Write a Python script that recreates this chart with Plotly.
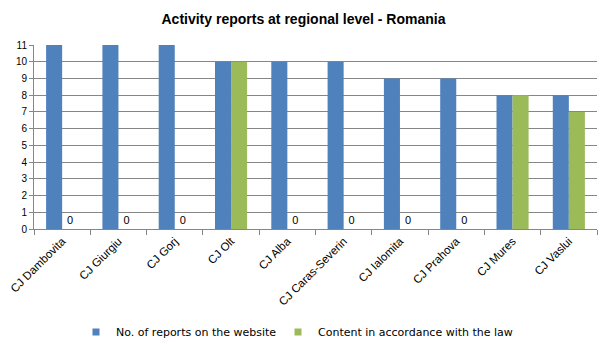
import plotly.graph_objects as go

categories = ["CJ Dambovita", "CJ Giurgiu", "CJ Gorj", "CJ Olt", "CJ Alba",
              "CJ Caras-Severin", "CJ Ialomita", "CJ Prahova", "CJ Mures", "CJ Vaslui"]
reports_on_website = [11, 11, 11, 10, 10, 10, 9, 9, 8, 8]
content_lawful = [0, 0, 0, 10, 0, 0, 0, 0, 8, 7]

series_names = ["No. of reports on the website", "Content in accordance with the law"]
series_colors = ["#4F81BD", "#9BBB59"]

FONT = "Liberation Sans"
LEGEND_FONT = "DejaVu Sans"

# only the zero-valued bars carry a value label
lawful_text = ["0" if v == 0 else "" for v in content_lawful]

fig = go.Figure()
fig.add_trace(go.Bar(
    x=categories, y=reports_on_website, name=series_names[0],
    marker=dict(color=series_colors[0], line=dict(width=0)),
    showlegend=False,
))
fig.add_trace(go.Bar(
    x=categories, y=content_lawful, name=series_names[1],
    marker=dict(color=series_colors[1], line=dict(width=0)),
    text=lawful_text, textposition="outside", cliponaxis=False,
    textfont=dict(family=FONT, size=11, color="black"),
    showlegend=False,
))

# small square legend keys, one legend box per series
for name, color, leg in zip(series_names, series_colors, ["legend", "legend2"]):
    fig.add_trace(go.Scatter(
        x=[None], y=[None], mode="markers", name=name, legend=leg,
        marker=dict(symbol="square", size=7, color=color),
    ))

legend_style = dict(orientation="h", xref="container", yref="container",
                    xanchor="left", yanchor="middle", y=0.0432,
                    bgcolor="rgba(0,0,0,0)",
                    font=dict(family=LEGEND_FONT, size=11, color="black"),
                    itemwidth=30, tracegroupgap=0)

fig.update_layout(
    width=607, height=347,
    margin=dict(l=34, r=10, t=45, b=118, autoexpand=False),
    paper_bgcolor="white", plot_bgcolor="white",
    barmode="group", bargap=0.43, bargroupgap=0,
    title=dict(text="<b>Activity reports at regional level - Romania</b>",
               x=0.5, xanchor="center", y=0.945, yanchor="middle",
               font=dict(family=FONT, size=14, color="black")),
    font=dict(family=FONT, size=11, color="black"),
    showlegend=True,
    legend=dict(legend_style, x=0.1252),
    legend2=dict(legend_style, x=0.458),
    xaxis=dict(showline=True, linecolor="#868686", linewidth=1,
               ticks="outside", tickson="boundaries", ticklen=5, tickcolor="#868686",
               tickangle=-45, showgrid=False,
               tickfont=dict(family=FONT, size=11.5, color="black")),
    yaxis=dict(range=[0, 11], dtick=1, showline=True, linecolor="#868686", linewidth=1,
               ticks="outside", ticklen=4, tickcolor="#868686",
               showgrid=True, gridcolor="#868686", gridwidth=1, zeroline=False,
               tickfont=dict(family=FONT, size=10, color="black")),
)

fig.write_html("out.html")
